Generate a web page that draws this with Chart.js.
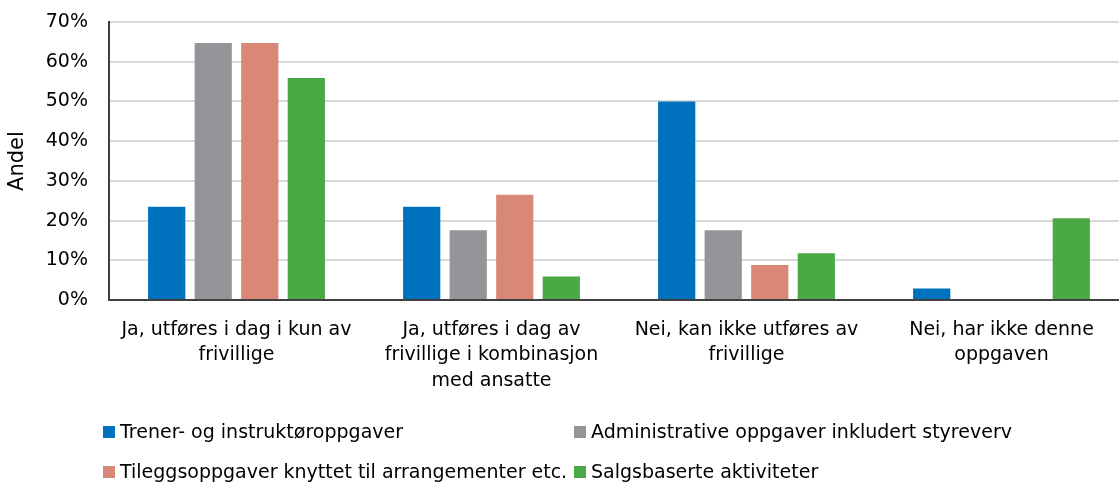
<!DOCTYPE html>
<html>
<head>
<meta charset="utf-8">
<script src="https://cdn.jsdelivr.net/npm/chart.js@4/dist/chart.umd.min.js"></script>
<style>
  html, body { margin: 0; padding: 0; background: #fff; overflow: hidden; }
  #wrap { position: relative; width: 1129px; height: 482px; }
</style>
</head>
<body>
<div id="wrap"><canvas id="myChart"></canvas></div>
<script>
// kategorier (flere linjer per etikett)
var categories = [
  ["Ja, utføres i dag i kun av", "frivillige"],
  ["Ja, utføres i dag av", "frivillige i kombinasjon", "med ansatte"],
  ["Nei, kan ikke utføres av", "frivillige"],
  ["Nei, har ikke denne", "oppgaven"]
];

var seriesNames = [
  "Trener- og instruktøroppgaver",
  "Administrative oppgaver inkludert styreverv",
  "Tileggsoppgaver knyttet til arrangementer etc.",
  "Salgsbaserte aktiviteter"
];

// andel i prosent
var trener = [23.5, 23.5, 50.0, 2.9];
var admin = [64.7, 17.6, 17.6, 0];
var tillegg = [64.7, 26.5, 8.8, 0];
var salg = [55.9, 5.9, 11.8, 20.6];

var yTicks = [0, 10, 20, 30, 40, 50, 60, 70];

var colors = ["#0071BD", "#939598", "#D98877", "#4AA845"];

var fontFamily = "'DejaVu Sans', sans-serif";

// egen legende i to kolonner
const gridLegend = {
  id: 'gridLegend',
  afterDraw(chart) {
    const ctx = chart.ctx;
    const cols = [103, 574];
    const rows = [432, 472];
    ctx.save();
    ctx.font = "19px " + fontFamily;
    ctx.textBaseline = 'middle';
    chart.data.datasets.forEach((ds, i) => {
      const x = cols[i % 2];
      const y = rows[Math.floor(i / 2)];
      ctx.fillStyle = ds.backgroundColor;
      ctx.fillRect(x, y - 6, 12, 12);
      ctx.fillStyle = '#000';
      ctx.fillText(ds.label, x + 17, y + 1);
    });
    ctx.restore();
  }
};

const ctx = document.getElementById('myChart').getContext('2d');
var myChart = new Chart(ctx, {
  type: 'bar',
  data: {
    labels: categories,
    datasets: [trener, admin, tillegg, salg].map((d, i) => ({
      label: seriesNames[i],
      data: d,
      backgroundColor: colors[i],
      borderWidth: 0,
      barPercentage: 0.8,
      categoryPercentage: 0.73
    }))
  },
  options: {
    responsive: true,
    maintainAspectRatio: false,
    animation: false,
    layout: { padding: { top: 0, right: 0, bottom: 71, left: 0 } },
    plugins: {
      legend: { display: false },
      tooltip: { enabled: false }
    },
    scales: {
      x: {
        grid: { display: false, drawTicks: false },
        border: { color: '#404040', width: 2 },
        ticks: {
          color: '#000',
          padding: 17,
          maxRotation: 0,
          autoSkip: false,
          font: { family: fontFamily, size: 19, lineHeight: 1.35 }
        }
      },
      y: {
        min: 0,
        max: 70,
        afterFit: (scale) => {
          scale.width = 109;
          scale.paddingTop = 22;
          scale.paddingBottom = 0;
        },
        afterBuildTicks: (scale) => { scale.ticks = yTicks.map(v => ({ value: v })); },
        grid: { color: '#d9d9d9', lineWidth: 2, drawTicks: false },
        border: { color: '#404040', width: 2 },
        ticks: {
          color: '#000',
          padding: 21,
          font: { family: fontFamily, size: 19 },
          callback: (v) => v + '%'
        },
        title: {
          display: true,
          text: 'Andel',
          color: '#000',
          padding: { top: 5, bottom: 0 },
          font: { family: fontFamily, size: 21 }
        }
      }
    }
  },
  plugins: [gridLegend]
});
</script>
</body>
</html>
